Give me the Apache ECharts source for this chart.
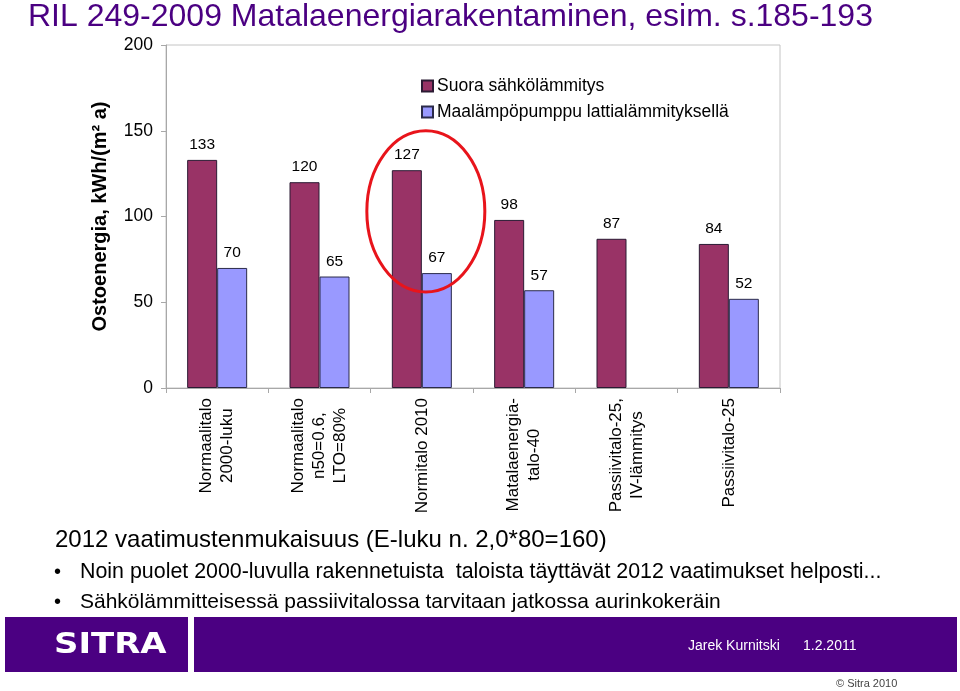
<!DOCTYPE html>
<html>
<head>
<meta charset="utf-8">
<script src="https://cdn.jsdelivr.net/npm/echarts@6/dist/echarts.min.js"></script>
<style>
html,body{margin:0;padding:0;background:#fff;}
#chart{width:960px;height:691px;}
</style>
</head>
<body>
<div id="chart"></div>
<script>
const categories = ['Normaalitalo\n2000-luku', 'Normaalitalo\nn50=0.6,\nLTO=80%', 'Normitalo 2010', 'Matalaenergia-\ntalo-40', 'Passiivitalo-25,\nIV-lämmitys', 'Passiivitalo-25'];
const seriesNames = ['Suora sähkölämmitys', 'Maalämpöpumppu lattialämmityksellä'];
const suoraValues = [133, 120, 127, 98, 87, 84];
const maalampoValues = [70, 65, 67, 57, null, 52];
const yMin = 0, yMax = 200, yInterval = 50;
const titleText = 'RIL 249-2009 Matalaenergiarakentaminen, esim. s.185-193';
const noteText = '2012 vaatimustenmukaisuus (E-luku n. 2,0*80=160)';
const bulletTexts = ['Noin puolet 2000-luvulla rakennetuista  taloista täyttävät 2012 vaatimukset helposti...', 'Sähkölämmitteisessä passiivitalossa tarvitaan jatkossa aurinkokeräin'];
const highlightIndex = 2;

const FONT = '"Liberation Sans", Arial, sans-serif';
const PURPLE = '#4b0082';

const chart = echarts.init(document.getElementById('chart'), null, {renderer: 'canvas'});

const option = {
  backgroundColor: '#ffffff',
  animation: false,
  textStyle: {fontFamily: FONT},
  grid: {left: 166, right: 180, top: 45, bottom: 303, show: true, borderColor: '#c4c4c4', borderWidth: 1},
  legend: {
    orient: 'vertical', left: 416, top: 72, itemWidth: 11, itemHeight: 11, itemGap: 8,
    icon: 'rect', selectedMode: false,
    textStyle: {fontSize: 17.5, color: '#000', fontFamily: FONT, padding: [0, 0, 0, -1]},
    data: seriesNames
  },
  xAxis: {
    type: 'category', data: categories,
    axisLine: {lineStyle: {color: '#a8a8a8', width: 1}},
    axisTick: {show: true, length: 5, alignWithLabel: false, lineStyle: {color: '#a8a8a8'}},
    axisLabel: {
      rotate: 90, margin: 10, interval: 0, color: '#000',
      formatter: function (v) { return v.split('\n').map(function (l) { return '{c|' + l + '}'; }).join('\n'); },
      rich: {c: {align: 'center', fontSize: 17, lineHeight: 21, fontFamily: FONT, color: '#000'}}
    }
  },
  yAxis: {
    type: 'value', min: yMin, max: yMax, interval: yInterval,
    name: 'Ostoenergia, kWh/(m² a)', nameLocation: 'middle', nameGap: 56, nameRotate: 90,
    nameTextStyle: {fontSize: 20, fontWeight: 'bold', color: '#000', fontFamily: FONT},
    axisLine: {show: true, lineStyle: {color: '#a8a8a8'}},
    axisTick: {show: true, length: 5, lineStyle: {color: '#a8a8a8'}},
    splitLine: {show: false},
    axisLabel: {fontSize: 17.5, color: '#000', margin: 13, fontFamily: FONT}
  },
  series: [
    {
      name: seriesNames[0], type: 'bar', data: suoraValues, barWidth: 30, barGap: '0%',
      itemStyle: {color: '#993366', borderColor: '#2b1a33', borderWidth: 1},
      label: {show: true, position: 'top', distance: 7, fontSize: 15.5, color: '#000', fontFamily: FONT}
    },
    {
      name: seriesNames[1], type: 'bar', data: maalampoValues, barWidth: 30, barGap: '0%',
      itemStyle: {color: '#9999ff', borderColor: '#2b2b4a', borderWidth: 1},
      label: {show: true, position: 'top', distance: 7, fontSize: 15.5, color: '#000', fontFamily: FONT}
    }
  ]
};
chart.setOption(option);

const cx = chart.convertToPixel({xAxisIndex: 0}, categories[highlightIndex]) + 4;
const cy = chart.convertToPixel({yAxisIndex: 0}, 103);
const unit = chart.convertToPixel({yAxisIndex: 0}, 0) - chart.convertToPixel({yAxisIndex: 0}, 1);

chart.setOption({
  graphic: [
    {type: 'ellipse', shape: {cx: cx, cy: cy, rx: 59, ry: 47 * unit}, style: {fill: 'none', stroke: '#e8141b', lineWidth: 3}, z: 100},
    {type: 'text', left: 28, top: 1, style: {text: titleText, font: '32px ' + FONT, fill: PURPLE}},
    {type: 'text', left: 55, top: 528, style: {text: noteText, font: '24px ' + FONT, fill: '#000'}},
    {type: 'text', left: 54, top: 562, style: {text: '•', font: '20px ' + FONT, fill: '#000'}},
    {type: 'text', left: 80, top: 562, style: {text: bulletTexts[0], font: '21.4px ' + FONT, fill: '#000'}},
    {type: 'text', left: 54, top: 592, style: {text: '•', font: '20px ' + FONT, fill: '#000'}},
    {type: 'text', left: 80, top: 592, style: {text: bulletTexts[1], font: '21px ' + FONT, fill: '#000'}},
    {type: 'rect', shape: {x: 5, y: 617, width: 183, height: 55}, style: {fill: PURPLE}},
    {type: 'rect', shape: {x: 194, y: 617, width: 763, height: 55}, style: {fill: PURPLE}},
    {type: 'text', x: 54, y: 631, scaleX: 1.17, style: {text: 'SITRA', font: 'bold 29px "DejaVu Sans", sans-serif', fill: '#fff'}},
    {type: 'text', left: 688, top: 639, style: {text: 'Jarek Kurnitski', font: '14px ' + FONT, fill: '#fff'}},
    {type: 'text', left: 803, top: 639, style: {text: '1.2.2011', font: '14px ' + FONT, fill: '#fff'}},
    {type: 'text', left: 836, top: 678, style: {text: '© Sitra 2010', font: '11px ' + FONT, fill: '#444'}}
  ]
});
</script>
</body>
</html>
